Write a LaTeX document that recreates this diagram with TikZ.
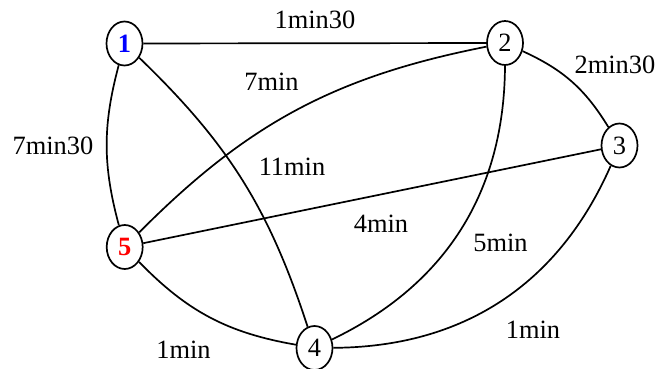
\documentclass[tikz,border=0pt]{standalone}
\usepackage{fontspec}
\setmainfont{Liberation Serif}
\usetikzlibrary{shapes.geometric}

\begin{document}
\begin{tikzpicture}[
            x=1pt, y=-1pt,
            town/.style={draw, ellipse, line width=1.7pt, minimum width=36pt, minimum height=44pt, inner sep=0pt, font=\fontsize{26.4}{30}\selectfont},
            timelbl/.style={inner sep=0pt, font=\fontsize{26.4}{30}\selectfont},
            road/.style={line width=1.7pt}
        ]
            \useasboundingbox (0,0) rectangle (657,369);
            
            \node[town] (v1) at (124.5,43.5) {\textcolor{blue}{\textbf{1}}};
            \node[town] (v2) at (505,43) {2};
            \node[town] (v3) at (619.5,145.5) {3};
            \node[town] (v4) at (314.5,348) {4};
            \node[town] (v5) at (124.7,247) {\textcolor{red}{\textbf{5}}};
            
            \draw[road] (v1) -- (v2);
            \draw[road] (v1) to[bend right=15] (v5);
            \draw[road] (v1) to[bend left=14] (v4);
            \draw[road] (v2) to[bend left=17] (v3);
            \draw[road] (v2) to[bend left=32] (v4);
            \draw[road] (v2) to[bend right=17] (v5);
            \draw[road] (v3) -- (v5);
            \draw[road] (v3) to[bend left=33] (v4);
            \draw[road] (v5) to[bend right=18] (v4);
            
            \node[timelbl] (t12) at (315,20) {1min30};
            \node[timelbl] (t15) at (53,146) {7min30};
            \node[timelbl] (t25) at (271.5,82) {7min};
            \node[timelbl] (t14) at (292,167) {11min};
            \node[timelbl] (t23) at (615,65) {2min30};
            \node[timelbl] (t35) at (381,224) {4min};
            \node[timelbl] (t24) at (500.5,243) {5min};
            \node[timelbl] (t34) at (533,330) {1min};
            \node[timelbl] (t45) at (183.5,350) {1min};
        \end{tikzpicture}
\end{document}
